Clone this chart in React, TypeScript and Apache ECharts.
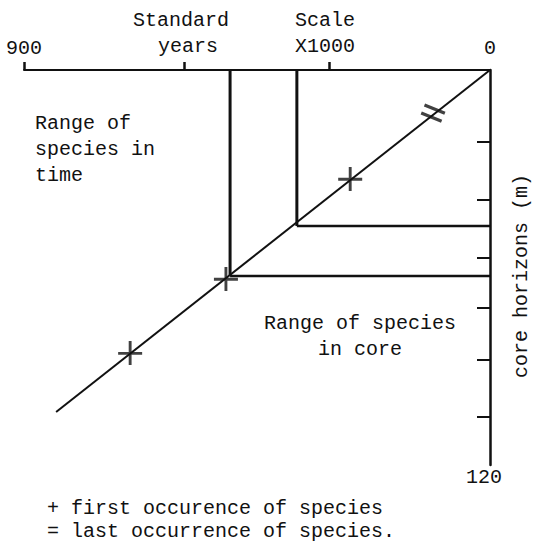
import React, { useEffect, useRef } from "react";
import * as echarts from "echarts";

// Time axis (standard years x1000), drawn right-to-left
const timeTickValues = [900, 590, 310];
const timeLabelValues = [900, 0];
// Core depth axis (m)
const depthTickValues = [21.9, 39.5, 57.1, 72.3, 88.1, 105.4];

// Correlation line: time (ky) vs core depth (m)
const correlationLine: [number, number][] = [
  [0, 0],
  [838, 103.9],
];

// Species ranges: time of appearance and core depth
const speciesTimes = [373, 502];
const speciesDepths = [47.4, 62.6];

// First occurrences (+) and last occurrence (=)
const firstOccurrences: [number, number][] = [
  [270, 33.1],
  [510, 63.5],
  [695, 86.0],
];
const lastOccurrences: [number, number][] = [[110, 13.1]];

const FONT = "Liberation Mono, Courier New, monospace";
const INK = "#111";

export default function App() {
  const ref = useRef<HTMLDivElement>(null);
  useEffect(() => {
    if (!ref.current) return;
    const chart = echarts.init(ref.current, null, { renderer: "svg" });

    const verticals = speciesTimes.map((t, i) => ({
      type: "line",
      data: [
        [t, 0],
        [t, speciesDepths[i]],
      ],
      symbol: "none",
      lineStyle: { color: INK, width: 3 },
      z: 3,
    }));
    const horizontals = speciesTimes.map((t, i) => ({
      type: "line",
      data: [
        [t, speciesDepths[i]],
        [0, speciesDepths[i]],
      ],
      symbol: "none",
      lineStyle: { color: INK, width: 2.5 },
      z: 3,
    }));

    chart.setOption({
      animation: false,
      backgroundColor: "#fff",
      grid: { left: 24, right: 45, top: 70, bottom: 79, containLabel: false },
      xAxis: {
        type: "value",
        position: "top",
        inverse: true,
        min: 0,
        max: 900,
        axisLine: { show: true, lineStyle: { color: INK, width: 2 } },
        axisTick: {
          show: true,
          customValues: timeTickValues,
          length: 8,
          inside: false,
          lineStyle: { color: INK, width: 2.5 },
        },
        axisLabel: {
          show: true,
          customValues: timeLabelValues,
          fontFamily: FONT,
          fontSize: 20,
          color: INK,
          margin: 12,
        },
        splitLine: { show: false },
      },
      yAxis: {
        type: "value",
        position: "right",
        inverse: true,
        min: 0,
        max: 120,
        axisLine: { show: true, lineStyle: { color: INK, width: 2.5 } },
        axisTick: {
          show: true,
          customValues: depthTickValues,
          length: 13,
          inside: true,
          lineStyle: { color: INK, width: 2 },
        },
        axisLabel: { show: false },
        splitLine: { show: false },
      },
      series: [
        {
          type: "line",
          data: correlationLine,
          symbol: "none",
          lineStyle: { color: INK, width: 2 },
          z: 2,
        },
        ...verticals,
        ...horizontals,
        {
          type: "scatter",
          data: firstOccurrences,
          symbol: "path://M0,9h20v2.4h-20z M8.8,0h2.4v20h-2.4z",
          symbolSize: 24,
          itemStyle: { color: INK },
          z: 5,
        },
        {
          type: "scatter",
          data: lastOccurrences,
          symbol: "path://M0,0h20v3h-20z M0,8h20v3h-20z",
          symbolSize: [22, 12],
          symbolRotate: -22,
          itemStyle: { color: INK },
          z: 5,
        },
      ],
      graphic: [
        { type: "text", left: 133, top: 10, style: { text: "Standard", font: `20px ${FONT}`, fill: INK } },
        { type: "text", left: 158, top: 36, style: { text: "years", font: `20px ${FONT}`, fill: INK } },
        { type: "text", left: 295, top: 10, style: { text: "Scale", font: `20px ${FONT}`, fill: INK } },
        { type: "text", left: 295, top: 36, style: { text: "X1000", font: `20px ${FONT}`, fill: INK } },
        {
          type: "text",
          left: 35,
          top: 110,
          style: { text: "Range of\nspecies in\ntime", font: `20px ${FONT}`, fill: INK, lineHeight: 26 },
        },
        {
          type: "text",
          x: 360,
          y: 310,
          style: {
            text: "Range of species\nin core",
            font: `20px ${FONT}`,
            fill: INK,
            lineHeight: 26,
            align: "center",
          },
        },
        {
          type: "text",
          x: 521,
          y: 276,
          rotation: Math.PI / 2,
          style: {
            text: "core horizons (m)",
            font: `20px ${FONT}`,
            fill: INK,
            align: "center",
            verticalAlign: "middle",
          },
        },
        {
          type: "text",
          x: 484,
          y: 477,
          style: { text: "120", font: `20px ${FONT}`, fill: INK, align: "center", verticalAlign: "middle" },
        },
        {
          type: "text",
          x: 47,
          y: 508,
          style: { text: "+ first occurence of species", font: `20px ${FONT}`, fill: INK, verticalAlign: "middle" },
        },
        {
          type: "text",
          x: 47,
          y: 531,
          style: { text: "= last occurrence of species.", font: `20px ${FONT}`, fill: INK, verticalAlign: "middle" },
        },
      ],
    });
    return () => chart.dispose();
  }, []);
  return (
    <div
      ref={ref}
      style={{ position: "fixed", left: 0, top: 0, width: 535, height: 544, background: "#fff" }}
    />
  );
}
